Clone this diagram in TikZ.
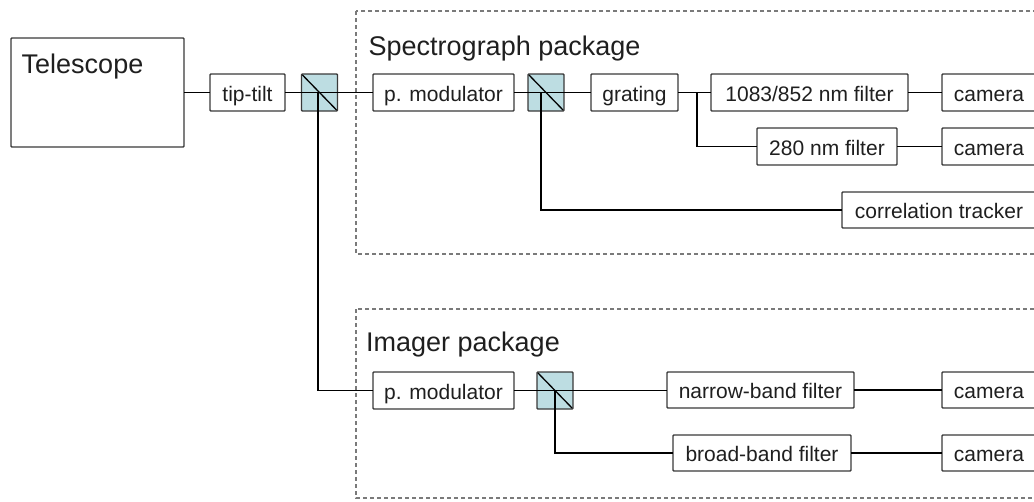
\documentclass[tikz,border=0pt]{standalone}
\usepackage{fontspec}
\setmainfont{Liberation Sans}
\definecolor{boxline}{HTML}{3A3A3A}
\definecolor{dashgray}{HTML}{7A7A7A}
\definecolor{cubefill}{HTML}{BDDDE2}
\begin{document}
\begin{tikzpicture}[x=1pt,y=-1pt,
  box/.style={draw=boxline, fill=white, line width=1.4pt, rounded corners=0.8pt,
    inner sep=0pt, outer sep=0pt, minimum height=37pt,
    text height=17.5pt, text depth=0pt,
    font=\fontsize{21}{24}\selectfont, text=black!88},
  cube/.style={draw=boxline, fill=cubefill, line width=1.4pt, rounded corners=0.8pt,
    inner sep=0pt, outer sep=0pt, minimum width=36pt, minimum height=37pt,
    path picture={\draw[black, line width=1.3pt] (path picture bounding box.north west) -- (path picture bounding box.south east);}},
  title/.style={inner sep=0pt, anchor=base west, font=\fontsize{27}{30}\selectfont, text=black!88},
  wire/.style={draw=black, line width=1.5pt},
  pkg/.style={draw=dashgray, line width=1.3pt, dash pattern=on 4pt off 3pt}]
\useasboundingbox (0,0) rectangle (1034,501);
\clip (0,0) rectangle (1034,501);
% packages
\draw[pkg] (356,11) rectangle (1045,254);
\draw[pkg] (356,309) rectangle (1045,498);
% telescope
\node[box, minimum width=173pt, minimum height=109pt] (tel) at (97.5,92.5) {};
\node[title] (teltxt) at (21.5,73.3) {Telescope};
\node[title] (spectxt) at (368.5,55.5) {Spectrograph package};
\node[title] (imgtxt) at (366,351.7) {Imager package};
% main line
\node[box, minimum width=75pt] (tt) at (247.5,92.5) {tip-tilt};
\node[cube] (bs1) at (319.5,92.5) {};
\node[box, minimum width=141pt] (pmS) at (443.5,92.5) {p. modulator};
\node[cube] (bs2) at (546,92.5) {};
\node[box, minimum width=87pt] (grat) at (634.5,92.5) {grating};
\node[box, minimum width=197pt] (f1) at (809.5,92.5) {1083/852 nm filter};
\node[box, minimum width=94pt] (c1) at (989,92.5) {camera};
\node[box, minimum width=140pt] (f2) at (827,146.5) {280 nm filter};
\node[box, minimum width=94pt] (c2) at (989,146.5) {camera};
\node[box, minimum width=194pt, minimum height=36pt] (corr) at (939,210) {correlation tracker};
% imager
\node[box, minimum width=141pt] (pmI) at (443.5,390.5) {p. modulator};
\node[cube] (bs3) at (555,390.5) {};
\node[box, minimum width=187pt, minimum height=36pt] (nb) at (760.5,390) {narrow-band filter};
\node[box, minimum width=94pt, minimum height=36pt] (c3) at (989,390) {camera};
\node[box, minimum width=178pt, minimum height=36pt] (bb) at (762,453) {broad-band filter};
\node[box, minimum width=94pt, minimum height=36pt] (c4) at (989,453) {camera};
% connectors
\coordinate (br) at (697,92.5);
\coordinate (bs2d) at (541,92.5);
\coordinate (bs1d) at (318,92.5);
\draw[wire] (tel.east |- tt.west) -- (tt.west);
\draw[wire] (tt.east) -- (pmS.west);
\draw[wire] (bs1d) |- (pmI.west);
\draw[wire] (pmS.east) -- (grat.west);
\draw[wire] (bs2d) |- (corr.west);
\draw[wire] (grat.east) -- (f1.west);
\draw[wire] (br) |- (f2.west);
\draw[wire] (f1.east) -- (c1.west);
\draw[wire] (f2.east) -- (c2.west);
\draw[wire] (pmI.east) -- (pmI.east -| nb.west);
\draw[wire] (bs3.center) |- (bb.west);
\draw[wire] (nb.east) -- (c3.west);
\draw[wire] (bb.east) -- (c4.west);
\end{tikzpicture}
\end{document}
